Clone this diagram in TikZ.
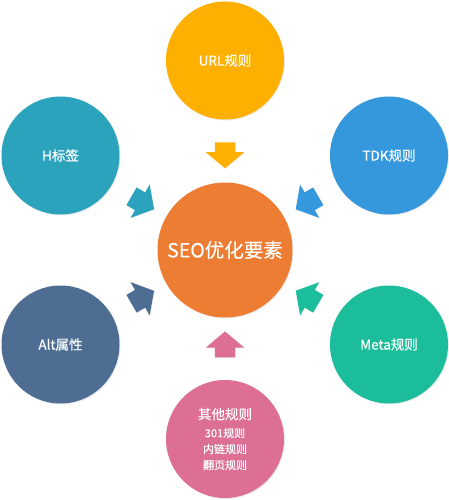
\documentclass[tikz,border=0pt]{standalone}
\usepackage{fontspec}
\setmainfont{Noto Sans CJK SC}[FakeBold=0.4]
\usetikzlibrary{shapes.arrows,shadows}

\definecolor{urlcol}{RGB}{253,176,0}
\definecolor{hcol}{RGB}{43,163,189}
\definecolor{tdkcol}{RGB}{53,152,220}
\definecolor{seocol}{RGB}{237,125,51}
\definecolor{altcol}{RGB}{77,110,146}
\definecolor{metacol}{RGB}{28,189,154}
\definecolor{othercol}{RGB}{220,111,147}

\begin{document}
\begin{tikzpicture}[x=1pt,y=-1pt,
    ball/.style={circle,inner sep=0pt,minimum size=118pt,text=white,
        font=\fontsize{13.5}{16}\selectfont,
        drop shadow={shadow xshift=1pt,shadow yshift=-1pt,opacity=0.15}},
    fatarrow/.style={single arrow,inner xsep=0pt,inner ysep=10pt,minimum height=26pt,
        single arrow head extend=9pt,single arrow tip angle=100,sloped,allow upside down,
        drop shadow={shadow xshift=0.6pt,shadow yshift=-0.6pt,opacity=0.15}}]
    \fill[white] (0,0) rectangle (449,500);
    % the centre and the six rules round it
    \node[ball,minimum size=135pt,fill=seocol,font=\fontsize{19.5}{22}\selectfont]
        (seo) at (225,250) {SEO优化要素};
    \node[ball,fill=urlcol] (url) at (225,60.5) {URL规则};
    \node[ball,fill=hcol] (h) at (60.5,155.5) {H标签};
    \node[ball,fill=tdkcol] (tdk) at (389,155.5) {TDK规则};
    \node[ball,fill=altcol] (alt) at (60.5,344.5) {Alt属性};
    \node[ball,fill=metacol] (meta) at (389,344.5) {Meta规则};
    \node[ball,fill=othercol,align=center,font=\fontsize{11}{16}\selectfont]
        (other) at (225,439) {{\fontsize{13.5}{16}\selectfont 其他规则}\\[2pt]301规则\\内链规则\\翻页规则};
    % arrows into the centre
    \path (url) -- node[fatarrow,fill=urlcol] (urlarrow) {} (seo);
    \path (h) -- node[fatarrow,fill=hcol] (harrow) {} (seo);
    \path (tdk) -- node[fatarrow,fill=tdkcol] (tdkarrow) {} (seo);
    \path (alt) -- node[fatarrow,fill=altcol] (altarrow) {} (seo);
    \path (meta) -- node[fatarrow,fill=metacol] (metaarrow) {} (seo);
    \path (other) -- node[fatarrow,fill=othercol] (otherarrow) {} (seo);
\end{tikzpicture}
\end{document}
